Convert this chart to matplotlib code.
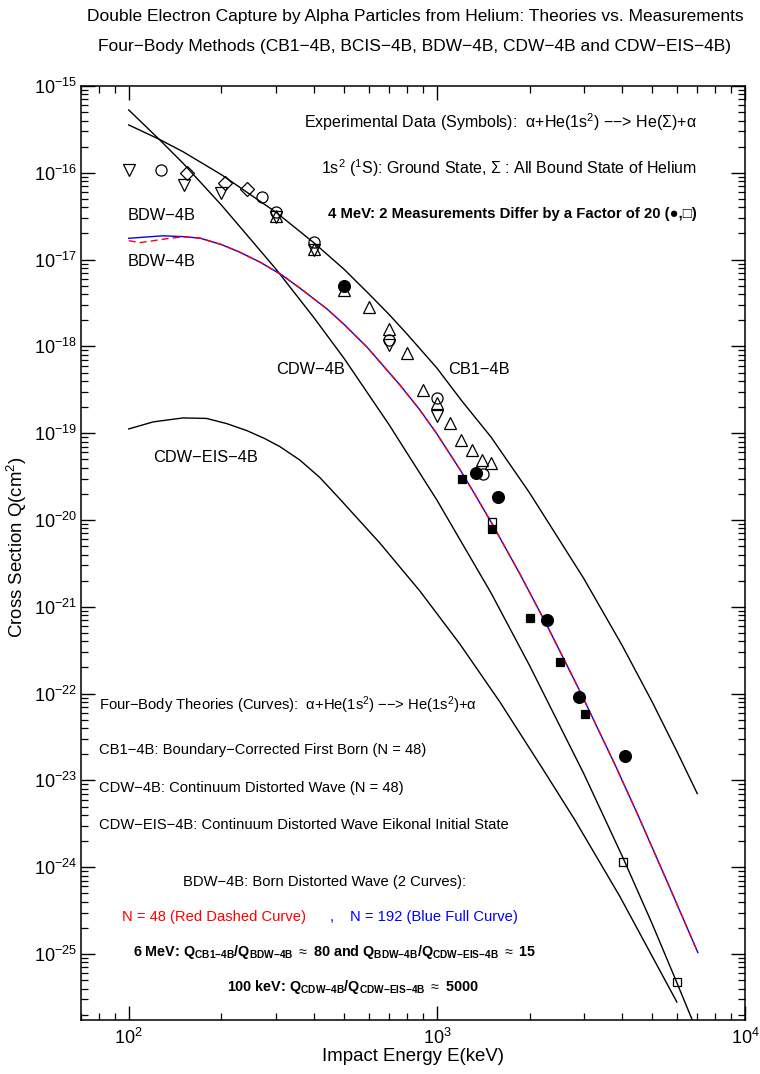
import numpy as np
import matplotlib
matplotlib.use("Agg")
import matplotlib.pyplot as plt
from matplotlib.ticker import FixedLocator, NullFormatter, LogFormatterSciNotation

plt.rcParams['font.family'] = ['Liberation Sans', 'DejaVu Sans']
plt.rcParams['mathtext.fontset'] = 'custom'
plt.rcParams['mathtext.rm'] = 'Liberation Sans'
plt.rcParams['mathtext.sf'] = 'Liberation Sans'
plt.rcParams['mathtext.it'] = 'Liberation Sans:italic'
plt.rcParams['mathtext.bf'] = 'Liberation Sans:bold'

# ---------------- theory curves (E in keV, Q in cm^2) ----------------
cb1_E = [100, 126, 150, 200, 300, 400, 500, 600, 700, 800, 1000, 1200, 1500, 2000,
         3000, 4000, 5000, 6000, 7000]
cb1_Q = [3.56e-16, 2.42e-16, 1.75e-16, 9.5e-17, 3.53e-17, 1.55e-17, 7.73e-18, 4.07e-18,
         2.33e-18, 1.39e-18, 5.64e-19, 2.4e-19, 9.0e-20, 2.05e-20, 2.11e-21, 3.55e-22,
         8.0e-23, 2.19e-23, 7.05e-24]

cdw_E = [100, 126, 150, 200, 300, 400, 500, 700, 1000, 1500, 2000, 3000, 4000, 5000,
         6000, 7000]
cdw_Q = [5.3e-16, 2.4e-16, 1.29e-16, 4.24e-17, 7.83e-18, 2.12e-18, 7.27e-19, 1.25e-19,
         1.70e-20, 1.44e-21, 2.1e-22, 1.19e-23, 1.33e-24, 2.22e-25, 4.75e-26, 1.26e-26]

bdw192_E = [100, 129, 150, 170, 200, 229, 268, 314, 359, 440, 500, 593, 759, 881, 1000,
            1188, 1328, 1509, 1860, 2275, 2911, 3785, 4498, 5623, 7030]
bdw192_Q = [1.76e-17, 1.88e-17, 1.84e-17, 1.77e-17, 1.49e-17, 1.22e-17, 9.27e-18, 6.65e-18,
            4.71e-18, 2.7e-18, 1.79e-18, 9.84e-19, 3.59e-19, 1.85e-19, 9.84e-20, 3.82e-20,
            1.98e-20, 9.12e-21, 2.39e-21, 6.14e-22, 1.07e-22, 1.52e-23, 3.96e-24, 6.5e-25,
            1.04e-25]

bdw48_E = [100, 109, 136, 150, 170, 200, 229, 268, 314, 359, 440, 500, 593, 759, 881, 1000,
           1188, 1328, 1509, 1860, 2275, 2911, 3785, 4498, 5623, 7030]
bdw48_Q = [1.65e-17, 1.57e-17, 1.76e-17, 1.83e-17, 1.77e-17, 1.49e-17, 1.22e-17, 9.27e-18,
           6.65e-18, 4.71e-18, 2.7e-18, 1.79e-18, 9.84e-19, 3.59e-19, 1.85e-19, 9.84e-20,
           3.82e-20, 1.98e-20, 9.12e-21, 2.39e-21, 6.14e-22, 1.07e-22, 1.52e-23, 3.96e-24,
           6.5e-25, 1.04e-25]

eis_E = [100, 120, 150, 179, 208, 242, 276, 309, 359, 417, 484, 653, 881, 1188, 1602, 2208,
         2805, 3926, 6010]
eis_Q = [1.12e-19, 1.35e-19, 1.50e-19, 1.48e-19, 1.29e-19, 1.07e-19, 8.69e-20, 7.03e-20,
         4.91e-20, 3.09e-20, 1.75e-20, 5.43e-21, 1.52e-21, 3.72e-22, 8.0e-23, 1.35e-23,
         3.5e-24, 4.6e-25, 2.8e-26]

# ---------------- experimental data ----------------
tri_down_E = [100, 151, 200, 300, 400, 700, 1000]
tri_down_Q = [1.08e-16, 7.24e-17, 5.85e-17, 3.1e-17, 1.29e-17, 1.04e-18, 1.58e-19]

tri_up_E = [300, 400, 500, 600, 700, 800, 900, 1000, 1100, 1200, 1300, 1400, 1500]
tri_up_Q = [3.18e-17, 1.32e-17, 4.47e-18, 2.84e-18, 1.58e-18, 8.4e-19, 3.15e-19, 2.23e-19,
            1.31e-19, 8.36e-20, 6.4e-20, 4.91e-20, 4.54e-20]

circ_open_E = [127, 270, 300, 400, 700, 1000, 1410]
circ_open_Q = [1.08e-16, 5.26e-17, 3.53e-17, 1.6e-17, 1.19e-18, 2.55e-19, 3.39e-20]

diam_E = [154, 205, 242]
diam_Q = [9.95e-17, 7.64e-17, 6.5e-17]

circ_fill_E = [500, 1340, 1578, 2275, 2893, 4075]
circ_fill_Q = [4.97e-18, 3.48e-20, 1.84e-20, 7.05e-22, 9.14e-23, 1.91e-23]

sq_fill_E = [1205, 1510, 2005, 2505, 3030]
sq_fill_Q = [2.96e-20, 7.87e-21, 7.43e-22, 2.31e-22, 5.82e-23]

sq_open_E = [1510, 4015, 6010]
sq_open_Q = [9.48e-21, 1.15e-24, 4.75e-26]

x_major = [1e2, 1e3, 1e4]
y_major = [10.0**p for p in range(-25, -14)]

# ---------------- figure ----------------
fig = plt.figure(figsize=(7.6, 10.74), dpi=100)
ax = fig.add_axes([81/760, 1-1020/1074, 664/760, 934/1074])
ax.set_xscale('log')
ax.set_yscale('log')
xlo, xhi = 70, 1e4
ylo, yhi = 10**-25.76, 1e-15
ax.set_xlim(xlo, xhi)
ax.set_ylim(ylo, yhi)

lw = 1.0
ax.plot(cb1_E, cb1_Q, color='black', lw=lw)
ax.plot(cdw_E, cdw_Q, color='black', lw=lw)
ax.plot(eis_E, eis_Q, color='black', lw=lw)
ax.plot(bdw192_E, bdw192_Q, color='blue', lw=lw)
ax.plot(bdw48_E, bdw48_Q, color='red', lw=lw, dashes=(5, 3))

ms = 8
mk = dict(ls='none', color='black', mew=0.9)
ax.plot(tri_down_E, tri_down_Q, marker='v', ms=9, mfc='none', **mk)
ax.plot(tri_up_E, tri_up_Q, marker='^', ms=9, mfc='none', **mk)
ax.plot(circ_open_E, circ_open_Q, marker='o', ms=ms, mfc='none', **mk)
ax.plot(diam_E, diam_Q, marker='D', ms=7, mfc='none', **mk)
ax.plot(sq_open_E, sq_open_Q, marker='s', ms=6, mfc='none', **mk)
ax.plot(circ_fill_E, circ_fill_Q, marker='o', ms=8.5, mfc='black', **mk)
ax.plot(sq_fill_E, sq_fill_Q, marker='s', ms=6, mfc='black', **mk)

x_minor = [k * 10.0**p for p in range(1, 4) for k in range(2, 10) if xlo <= k * 10.0**p <= xhi]
y_minor = [k * 10.0**p for p in range(-26, -15) for k in range(2, 10) if ylo <= k * 10.0**p <= yhi]
ax.xaxis.set_major_locator(FixedLocator(x_major))
ax.yaxis.set_major_locator(FixedLocator(y_major))
ax.xaxis.set_minor_locator(FixedLocator(x_minor))
ax.yaxis.set_minor_locator(FixedLocator(y_minor))
ax.xaxis.set_major_formatter(LogFormatterSciNotation())
ax.yaxis.set_major_formatter(LogFormatterSciNotation())
ax.xaxis.set_minor_formatter(NullFormatter())
ax.yaxis.set_minor_formatter(NullFormatter())
ax.tick_params(which='both', direction='in', top=True, right=True, labelsize=13)
ax.tick_params(which='major', length=10, width=1.0)
ax.tick_params(which='minor', length=5, width=0.9)
ax.tick_params(axis='x', pad=6)
ax.tick_params(axis='y', pad=3)
for s in ax.spines.values():
    s.set_linewidth(1.1)

ax.set_xlabel('Impact Energy E(keV)', fontsize=13.4)
ax.set_ylabel('Cross Section Q(cm$^2$)', fontsize=13.4)
ax.xaxis.set_label_coords(0.5, (1020-1048)/934)
ax.yaxis.set_label_coords((29-81)/664, (1020-547)/934)

cx = 415/760
fig.text(cx, 1-17/1074, 'Double Electron Capture by Alpha Particles from Helium: Theories vs. Measurements',
         ha='center', va='center', fontsize=12.5)
fig.text(cx, 1-47/1074, 'Four\u2212Body Methods (CB1\u22124B, BCIS\u22124B, BDW\u22124B, CDW\u22124B and CDW\u2212EIS\u22124B)',
         ha='center', va='center', fontsize=12.5)

def ptext(px, py, s, ha='left', **kw):
    ax.text((px-81)/664, (1020-py)/934, s, transform=ax.transAxes, ha=ha, va='center',
            fontsize=kw.pop('fontsize', 10.6), **kw)

M = '\u2212'
ptext(697, 122, 'Experimental Data (Symbols):  \u03b1+He(1s$^2$) ' + M + M + '> He(\u03a3)+\u03b1', ha='right', fontsize=11.5)
ptext(697, 168, '1s$^2$ ($^1$S): Ground State, \u03a3 : All Bound State of Helium', ha='right', fontsize=11.5)
ptext(697, 214, '4 MeV: 2 Measurements Differ by a Factor of 20 (\u25cf,\u25a1)', ha='right', fontweight='bold', fontsize=10.7)
ptext(128, 215, 'BDW' + M + '4B', fontsize=11.8)
ptext(128, 262, 'BDW' + M + '4B', fontsize=11.8)
ptext(276, 370, 'CDW' + M + '4B', fontsize=11.8)
ptext(448, 370, 'CB1' + M + '4B', fontsize=11.8)
ptext(153, 457, 'CDW' + M + 'EIS' + M + '4B', fontsize=11.8)

ptext(99, 705, 'Four' + M + 'Body Theories (Curves):  \u03b1+He(1s$^2$) ' + M + M + '> He(1s$^2$)+\u03b1')
ptext(99, 750, 'CB1' + M + '4B: Boundary' + M + 'Corrected First Born (N = 48)')
ptext(99, 788, 'CDW' + M + '4B: Continuum Distorted Wave (N = 48)')
ptext(99, 825, 'CDW' + M + 'EIS' + M + '4B: Continuum Distorted Wave Eikonal Initial State')
ptext(183, 882, 'BDW' + M + '4B: Born Distorted Wave (2 Curves):')
ptext(122, 917, 'N = 48 (Red Dashed Curve)', color='red')
ptext(330, 917, ',', color='blue')
ptext(350, 917, 'N = 192 (Blue Full Curve)', color='blue')
ptext(133, 952, r'6 MeV: Q$_{\mathbf{CB1{-}4B}}$/Q$_{\mathbf{BDW{-}4B}}$ $\approx$ 80 and Q$_{\mathbf{BDW{-}4B}}$/Q$_{\mathbf{CDW{-}EIS{-}4B}}$ $\approx$ 15',
      fontweight='bold', fontsize=10.4)
ptext(227, 987, r'100 keV: Q$_{\mathbf{CDW{-}4B}}$/Q$_{\mathbf{CDW{-}EIS{-}4B}}$ $\approx$ 5000', fontweight='bold', fontsize=10.4)

fig.savefig('out.png', dpi=100)
